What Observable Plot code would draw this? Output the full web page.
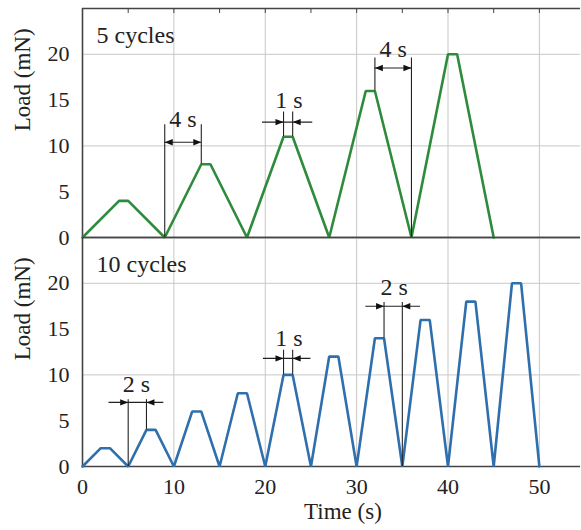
<!DOCTYPE html>
<html>
<head>
<meta charset="utf-8">
<script src="https://cdn.jsdelivr.net/npm/d3@7"></script>
<script src="https://cdn.jsdelivr.net/npm/@observablehq/plot@0.6"></script>
<style>
  body { margin: 0; background: white; }
  #wrap { position: relative; width: 581px; height: 530px; }
  #wrap svg { position: absolute; left: 0; background: transparent; }
  #wrap svg, #wrap svg text { font-family: "Liberation Serif", "Times New Roman", serif !important; }
</style>
</head>
<body>
<div id="wrap"></div>
<script>
// ---- Data ----
const time5  = [0, 4, 5, 9, 13, 14, 18, 22, 23, 27, 31, 32, 36, 40, 41, 45];
const load5  = [0, 4, 4, 0,  8,  8,  0, 11, 11,  0, 16, 16,  0, 20, 20,  0];
const time10 = [0, 2, 3, 5, 7, 8, 10, 12, 13, 15, 17, 18, 20, 22, 23, 25, 27, 28, 30, 32, 33, 35, 37, 38, 40, 42, 43, 45, 47, 48, 50];
const load10 = [0, 2, 2, 0, 4, 4,  0,  6,  6,  0,  8,  8,  0, 10, 10,  0, 12, 12,  0, 14, 14,  0, 16, 16,  0, 18, 18,  0, 20, 20,  0];
const panelLabels = ["5 cycles", "10 cycles"];
const yTicks = [0, 5, 10, 15, 20];
const xTicks = [0, 10, 20, 30, 40, 50];
const gridXTicks = [10, 20, 30, 40, 50];
const gridYTicks = [10, 20];
const topTicks = [5, 10, 15, 20, 25, 30, 35, 40, 45, 50];

// Dimension annotations (data units): t1,t2 = marked times; b1,b2 = where the extension lines start;
// top = extension line top; ay = arrow level; inside = double arrow between lines, else arrows from outside
const annot5 = [
  {label: "4 s", t1: 9,  t2: 13, b1: 0,  b2: 8,  top: 12.3, ay: 10.4, inside: true,  tx: 11,   ty: 12.9},
  {label: "1 s", t1: 22, t2: 23, b1: 11, b2: 11, top: 13.7, ay: 12.6, inside: false, tl: 19.7, tr: 25.2, tx: 22.6, ty: 15.0},
  {label: "4 s", t1: 32, t2: 36, b1: 16, b2: 0,  top: 19.6, ay: 18.5, inside: true,  tx: 34,   ty: 20.5}
];
const annot10 = [
  {label: "2 s", t1: 5,  t2: 7,  b1: 0,  b2: 4,  top: 7.3,  ay: 7.0,  inside: false, tl: 2.9,  tr: 8.9,  tx: 5.9,  ty: 9.0},
  {label: "1 s", t1: 22, t2: 23, b1: 10, b2: 10, top: 12.7, ay: 11.8, inside: false, tl: 19.8, tr: 25.0, tx: 22.6, ty: 14.0},
  {label: "2 s", t1: 33, t2: 35, b1: 14, b2: 0,  top: 17.9, ay: 17.5, inside: false, tl: 31.0, tr: 37.0, tx: 34.1, ty: 19.6}
];

const green = "#2e8b3c";
const blue = "#2f6fae";
const FONT = "'Liberation Serif', 'Times New Roman', serif";

// arrowhead symbols (tip at origin)
const headRight = {draw(ctx) { ctx.moveTo(0, 0); ctx.lineTo(-8, -3.2); ctx.lineTo(-8, 3.2); ctx.closePath(); }};
const headLeft  = {draw(ctx) { ctx.moveTo(0, 0); ctx.lineTo(8, -3.2); ctx.lineTo(8, 3.2); ctx.closePath(); }};

function annotationMarks(annots) {
  const ext = annots.flatMap(a => [{t: a.t1, b: a.b1, top: a.top}, {t: a.t2, b: a.b2, top: a.top}]);
  const hlines = annots.map(a => a.inside ? {x1: a.t1, x2: a.t2, y: a.ay} : {x1: a.tl, x2: a.tr, y: a.ay});
  const rights = annots.map(a => a.inside ? {x: a.t2, y: a.ay} : {x: a.t1, y: a.ay});
  const lefts  = annots.map(a => a.inside ? {x: a.t1, y: a.ay} : {x: a.t2, y: a.ay});
  return [
    Plot.ruleX(ext, {x: "t", y1: "b", y2: "top", stroke: "#222", strokeWidth: 1.1}),
    Plot.ruleY(hlines, {x1: "x1", x2: "x2", y: "y", stroke: "#222", strokeWidth: 1.1}),
    Plot.dot(rights, {x: "x", y: "y", symbol: headRight, fill: "#111", stroke: "none"}),
    Plot.dot(lefts,  {x: "x", y: "y", symbol: headLeft,  fill: "#111", stroke: "none"}),
    Plot.text(annots, {x: "tx", y: "ty", text: "label", fontSize: 24, fill: "#222"})
  ];
}

function panel(times, loads, color, label, annots, isBottom) {
  const data = times.map((t, i) => ({t, v: loads[i]}));
  return Plot.plot({
    width: 581,
    height: isBottom ? 293 : 240,
    marginLeft: 82,
    marginRight: 1,
    marginTop: isBottom ? 0 : 8,
    marginBottom: isBottom ? 64 : 3,
    style: {fontFamily: FONT, fontSize: "22px", color: "#222", background: "transparent", overflow: "visible"},
    x: {domain: [0, 54.5]},
    y: {domain: [0, 25]},
    marks: [
      Plot.gridX(gridXTicks, {stroke: "#c8c8c8", strokeOpacity: 1, strokeWidth: 1}),
      Plot.gridY(gridYTicks, {stroke: "#c8c8c8", strokeOpacity: 1, strokeWidth: 1}),
      Plot.axisY(yTicks, {tickSize: 0, tickPadding: 13, label: null, fontSize: 22}),
      isBottom
        ? Plot.axisX(xTicks, {tickSize: 0, tickPadding: 12, label: null, fontSize: 22})
        : Plot.axisX(topTicks, {anchor: "top", tickSize: -4, tickFormat: () => "", label: null, stroke: "#444"}),
      Plot.ruleX([0], {stroke: "#444", strokeWidth: 1.6}),
      Plot.ruleY([0, 25], {stroke: "#444", strokeWidth: 1.6}),
      Plot.line(data, {x: "t", y: "v", stroke: color, strokeWidth: 2.6, strokeLinejoin: "miter"}),
      ...annotationMarks(annots),
      Plot.text([label], {frameAnchor: "top-left", dx: 14, dy: 17, textAnchor: "start", fontSize: 24, fill: "#222"}),
      Plot.text(["Load (mN)"], {frameAnchor: "left", y: [11.6], dx: -60, rotate: -90, fontSize: 23, fill: "#222"}),
      ...(isBottom ? [Plot.text(["Time (s)"], {frameAnchor: "bottom", x: [28.5], dy: 52, fontSize: 23, fill: "#222"})] : [])
    ]
  });
}

const wrap = document.getElementById("wrap");
const p1 = panel(time5, load5, green, panelLabels[0], annot5, false);
p1.style.top = "0px";
p1.style.fontFamily = FONT;
const p2 = panel(time10, load10, blue, panelLabels[1], annot10, true);
p2.style.top = "237px";
p2.style.fontFamily = FONT;
wrap.appendChild(p1);
wrap.appendChild(p2);
</script>
</body>
</html>
